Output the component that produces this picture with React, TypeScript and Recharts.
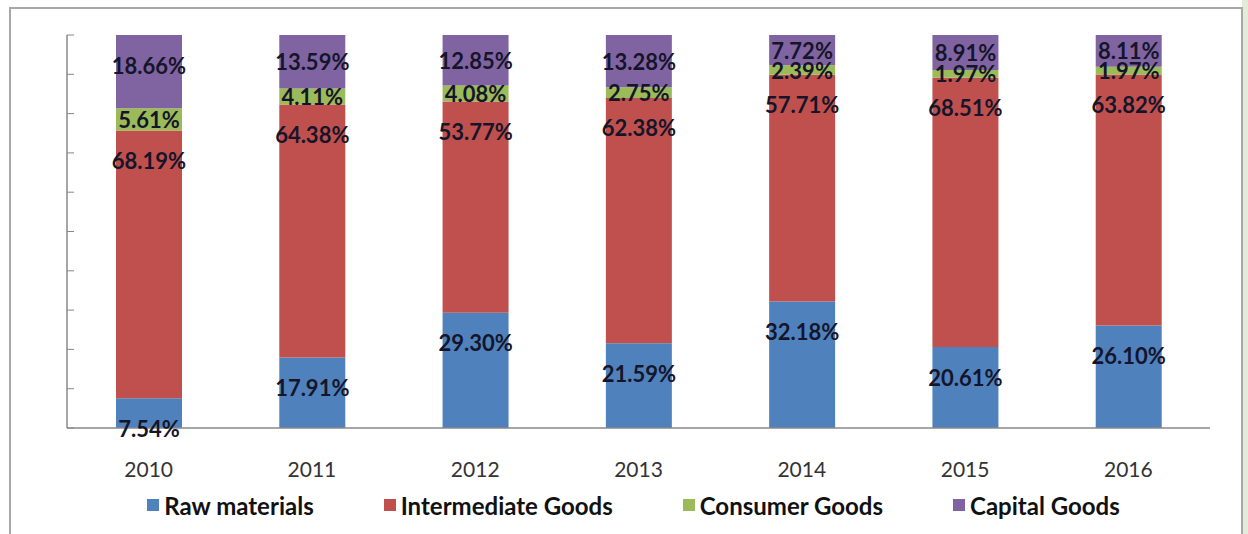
import React from 'react';
import { BarChart, Bar, XAxis, YAxis, Legend, LabelList } from 'recharts';

const years = ['2010', '2011', '2012', '2013', '2014', '2015', '2016'];
const rawMaterials = [7.54, 17.91, 29.3, 21.59, 32.18, 20.61, 26.1];
const intermediateGoods = [68.19, 64.38, 53.77, 62.38, 57.71, 68.51, 63.82];
const consumerGoods = [5.61, 4.11, 4.08, 2.75, 2.39, 1.97, 1.97];
const capitalGoods = [18.66, 13.59, 12.85, 13.28, 7.72, 8.91, 8.11];
const yTicks = [0, 10, 20, 30, 40, 50, 60, 70, 80, 90, 100];
const boundaryTicks = [0, 1, 2, 3, 4, 5, 6, 7];

const series = [
  { key: 'raw', name: 'Raw materials', color: '#4F81BD', values: rawMaterials, centred: false },
  { key: 'intermediate', name: 'Intermediate Goods', color: '#C0504D', values: intermediateGoods, centred: false },
  { key: 'consumer', name: 'Consumer Goods', color: '#9BBB59', values: consumerGoods, centred: true },
  { key: 'capital', name: 'Capital Goods', color: '#8064A2', values: capitalGoods, centred: true },
];

const data = years.map((year, i) => {
  const row: any = { year };
  series.forEach((s) => { row[s.key] = s.values[i]; });
  return row;
});

const FONT = 'Lato, "Open Sans", sans-serif';
const blank = () => '';

// excel put these labels near the top of each segment, small ones centred
const segmentLabel = (centred: boolean) => (props: any) => {
  const { x, y, width, height, value } = props;
  const drop = centred ? Math.min(height / 2, 30) : 30;
  return (
    <text
      x={x + width / 2}
      y={y + drop}
      textAnchor="middle"
      dominantBaseline="central"
      fontFamily={FONT}
      fontWeight={700}
      fontSize={22}
      fill="#15152a"
    >
      {value.toFixed(2)}%
    </text>
  );
};

const LegendBox = () => (
  <div style={{ display: 'flex', justifyContent: 'center', alignItems: 'center', gap: 70, height: 40, fontFamily: FONT, fontWeight: 700, fontSize: 24, color: '#111' }}>
    {series.map((s) => (
      <div key={s.key} style={{ display: 'flex', alignItems: 'center' }}>
        <span style={{ width: 12, height: 12, background: s.color, marginRight: 5 }} />
        <span>{s.name}</span>
      </div>
    ))}
  </div>
);

export default function App() {
  return (
    <div style={{ position: 'absolute', left: 0, top: 0, width: 1248, height: 534, background: '#fff', overflow: 'hidden' }}>
      <div style={{ position: 'absolute', right: 0, top: 0, width: 6, height: 534, background: '#e4ecd8' }} />
      <div style={{ position: 'absolute', left: 9, top: 7, width: 1230, height: 560, border: '2px solid #a8a8a8' }} />
      <div style={{ position: 'absolute', left: 0, top: 0 }}>
        <BarChart
          width={1248}
          height={534}
          data={data}
          margin={{ top: 35, right: 38, left: 57, bottom: 9 }}
        >
          <XAxis
            xAxisId="bounds"
            type="number"
            domain={[0, 7]}
            ticks={boundaryTicks}
            tickFormatter={blank}
            axisLine={false}
            tickLine={{ stroke: '#888' }}
            tickSize={7}
            height={0}
          />
          <XAxis
            xAxisId="cat"
            dataKey="year"
            axisLine={{ stroke: '#888', strokeWidth: 1.5 }}
            tickLine={false}
            tickMargin={28}
            height={57}
            tick={{ fontFamily: FONT, fontSize: 21, fill: '#333' }}
          />
          <YAxis
            domain={[0, 100]}
            ticks={yTicks}
            width={10}
            tickFormatter={blank}
            tickSize={-7}
            axisLine={{ stroke: '#888', strokeWidth: 1.5 }}
            tickLine={{ stroke: '#888' }}
          />
          <Legend verticalAlign="bottom" content={<LegendBox />} />
          {series.map((s) => (
            <Bar
              key={s.key}
              xAxisId="cat"
              dataKey={s.key}
              name={s.name}
              stackId="share"
              fill={s.color}
              barSize={66}
              isAnimationActive={false}
            >
              <LabelList dataKey={s.key} content={segmentLabel(s.centred)} />
            </Bar>
          ))}
        </BarChart>
      </div>
    </div>
  );
}
